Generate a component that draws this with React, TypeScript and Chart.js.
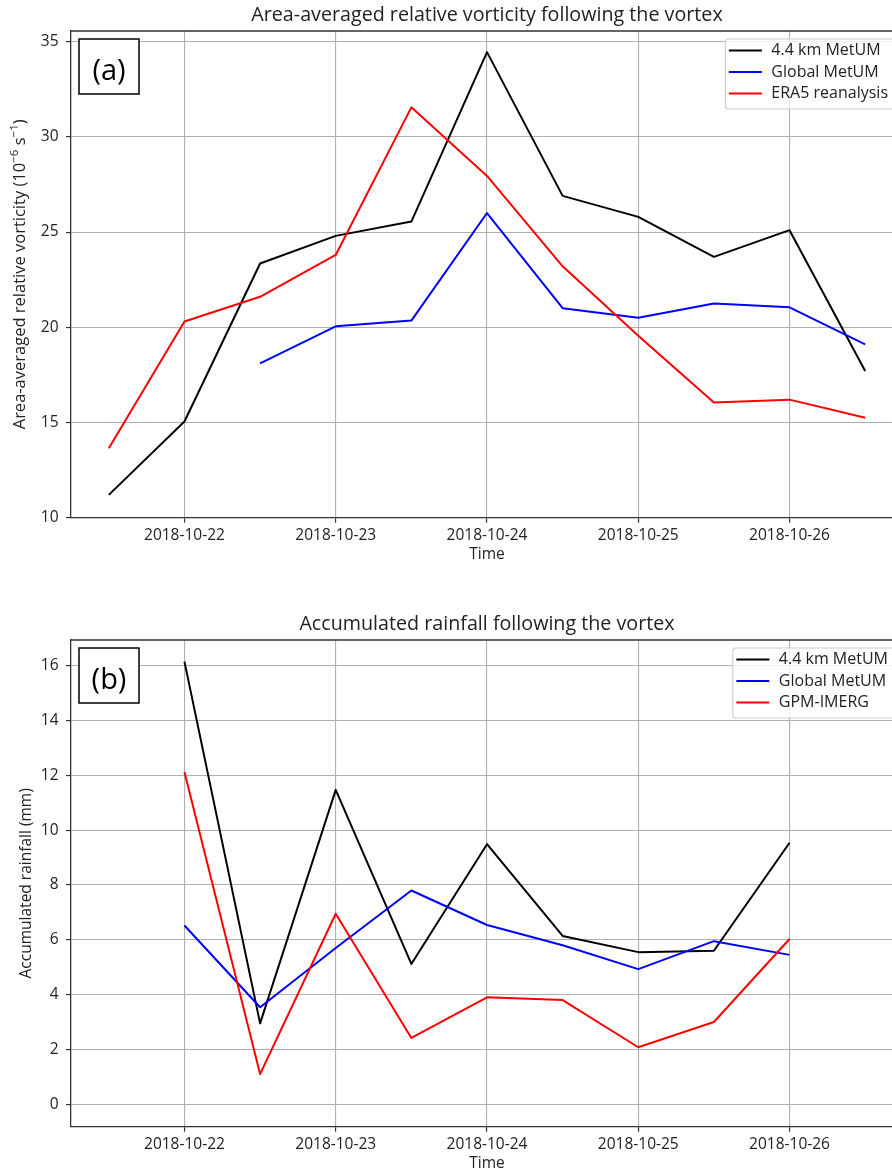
import React, { useEffect, useRef } from "react";
import { Chart, registerables } from "chart.js";

Chart.register(...registerables);

// ---------------- data ----------------
const vortTimes = [
  "2018-10-21T12:00", "2018-10-22T00:00", "2018-10-22T12:00", "2018-10-23T00:00",
  "2018-10-23T12:00", "2018-10-24T00:00", "2018-10-24T12:00", "2018-10-25T00:00",
  "2018-10-25T12:00", "2018-10-26T00:00", "2018-10-26T12:00",
];
const vort44km = [11.2, 15.05, 23.35, 24.8, 25.55, 34.45, 26.9, 25.8, 23.7, 25.1, 17.7];
const vortGlobal = [null, null, 18.1, 20.05, 20.35, 26.0, 21.0, 20.5, 21.25, 21.05, 19.1];
const vortEra5 = [13.65, 20.3, 21.6, 23.8, 31.55, 27.95, 23.2, 19.55, 16.05, 16.2, 15.25];

const rainTimes = [
  "2018-10-22T00:00", "2018-10-22T12:00", "2018-10-23T00:00", "2018-10-23T12:00",
  "2018-10-24T00:00", "2018-10-24T12:00", "2018-10-25T00:00", "2018-10-25T12:00",
  "2018-10-26T00:00",
];
const rain44km = [16.15, 2.95, 11.47, 5.12, 9.49, 6.14, 5.55, 5.6, 9.54];
const rainGlobal = [6.52, 3.54, 5.7, 7.8, 6.54, 5.8, 4.93, 5.95, 5.45];
const rainImerg = [12.12, 1.1, 6.95, 2.42, 3.9, 3.8, 2.08, 3.0, 6.03];

const dateTicks = ["2018-10-22", "2018-10-23", "2018-10-24", "2018-10-25", "2018-10-26"];
const vortTicks = [10, 15, 20, 25, 30, 35];
const rainTicks = [0, 2, 4, 6, 8, 10, 12, 14, 16];
const timeRange = ["2018-10-21T06:00", "2018-10-26T18:00"];
const vortRange = [10, 35.56];
const rainRange = [-0.82, 16.94];

const seriesColors = ["#000000", "#0000ff", "#ff0000"];
const vortLabels = ["4.4 km MetUM", "Global MetUM", "ERA5 reanalysis"];
const rainLabels = ["4.4 km MetUM", "Global MetUM", "GPM-IMERG"];

const vortTitle = "Area-averaged relative vorticity following the vortex";
const rainTitle = "Accumulated rainfall following the vortex";
const vortYTitle: Seg[] = [
  { t: "Area-averaged relative vorticity (10", sup: false },
  { t: "\u22126", sup: true },
  { t: " s", sup: false },
  { t: "\u22121", sup: true },
  { t: ")", sup: false },
];
const rainYTitle = "Accumulated rainfall (mm)";
const xTitle = "Time";

// ---------------- styles ----------------
const FONT = "'Open Sans', 'Noto Sans', sans-serif";
const TICK_SIZE = 15.5;
const LEGEND_SIZE = 16;
const RICH_TITLE_SIZE = 16.5;
const TITLE_SIZE = 19.7;
const TEXT = "#222222";
const GRID = "#b0b0b0";
const SPINE = "#333333";
const CANVAS_W = 960;
const PLOT_LEFT = 71;
const PLOT_RIGHT = 903;

type Seg = { t: string; sup: boolean };

const BASE = Date.UTC(2018, 9, 21);
const dayOf = (s: string) => (Date.parse(s + ":00Z") - BASE) / 86400000;

type PanelProps = {
  top: number;
  height: number;
  plotTop: number;
  plotBottom: number;
  title: string;
  titleY: number;
  panel: string;
  times: string[];
  series: (number | null)[][];
  labels: string[];
  yRange: number[];
  yTicks: number[];
  yTitleRich?: Seg[];
  yTitleText?: string;
  yTitleX: number;
  timeY: number;
};

function Panel(p: PanelProps) {
  const ref = useRef<HTMLCanvasElement | null>(null);

  useEffect(() => {
    const canvas = ref.current;
    if (!canvas) return;

    const decor = {
      id: "decor",
      afterDraw(chart: any) {
        const { ctx, chartArea: a } = chart;
        ctx.save();
        // top and right spines
        ctx.strokeStyle = SPINE;
        ctx.lineWidth = 1.3;
        ctx.beginPath();
        ctx.moveTo(a.left, a.top);
        ctx.lineTo(a.right, a.top);
        ctx.lineTo(a.right, a.bottom);
        ctx.stroke();

        // title
        ctx.fillStyle = TEXT;
        ctx.font = `${TITLE_SIZE}px ${FONT}`;
        ctx.textAlign = "center";
        ctx.textBaseline = "middle";
        ctx.fillText(p.title, (a.left + a.right) / 2, p.titleY);

        // rich y title (with superscripts)
        if (p.yTitleRich) {
          ctx.save();
          const main = `${RICH_TITLE_SIZE}px ${FONT}`;
          const sup = `${RICH_TITLE_SIZE * 0.7}px ${FONT}`;
          let total = 0;
          const widths = p.yTitleRich.map((s) => {
            ctx.font = s.sup ? sup : main;
            const w = ctx.measureText(s.t).width;
            total += w;
            return w;
          });
          ctx.translate(p.yTitleX, (a.top + a.bottom) / 2);
          ctx.rotate(-Math.PI / 2);
          ctx.textAlign = "left";
          ctx.textBaseline = "middle";
          let x = -total / 2;
          p.yTitleRich.forEach((s, i) => {
            ctx.font = s.sup ? sup : main;
            ctx.fillText(s.t, x, s.sup ? -RICH_TITLE_SIZE * 0.38 : 0);
            x += widths[i];
          });
          ctx.restore();
        }

        // panel label box
        const bx = a.left + 8;
        const by = a.top + 8;
        ctx.fillStyle = "#ffffff";
        ctx.fillRect(bx, by, 60, 55);
        ctx.strokeStyle = "#000000";
        ctx.lineWidth = 1.5;
        ctx.strokeRect(bx, by, 60, 55);
        ctx.fillStyle = "#000000";
        ctx.font = `29px ${FONT}`;
        ctx.textAlign = "center";
        ctx.textBaseline = "alphabetic";
        ctx.fillText(p.panel, bx + 30, by + 41);

        // legend
        ctx.font = `${LEGEND_SIZE}px ${FONT}`;
        const maxW = Math.max(...p.labels.map((l) => ctx.measureText(l).width));
        const lw = 46 + maxW + 8;
        const lr = a.right - 7;
        const lx = lr - lw;
        const ly = a.top + 8;
        const lh = 70;
        ctx.beginPath();
        const r = 3;
        ctx.moveTo(lx + r, ly);
        ctx.lineTo(lr - r, ly);
        ctx.arcTo(lr, ly, lr, ly + r, r);
        ctx.lineTo(lr, ly + lh - r);
        ctx.arcTo(lr, ly + lh, lr - r, ly + lh, r);
        ctx.lineTo(lx + r, ly + lh);
        ctx.arcTo(lx, ly + lh, lx, ly + lh - r, r);
        ctx.lineTo(lx, ly + r);
        ctx.arcTo(lx, ly, lx + r, ly, r);
        ctx.closePath();
        ctx.fillStyle = "rgba(255,255,255,0.8)";
        ctx.fill();
        ctx.strokeStyle = "#cccccc";
        ctx.lineWidth = 1.1;
        ctx.stroke();
        p.labels.forEach((l, k) => {
          const yy = ly + 11.5 + k * 21.5;
          ctx.strokeStyle = seriesColors[k];
          ctx.lineWidth = 2;
          ctx.beginPath();
          ctx.moveTo(lx + 3.5, yy);
          ctx.lineTo(lx + 36.5, yy);
          ctx.stroke();
          ctx.fillStyle = TEXT;
          ctx.textAlign = "left";
          ctx.textBaseline = "middle";
          ctx.fillText(l, lx + 46, yy);
        });
        ctx.restore();
      },
    };

    const tickFont = { family: FONT, size: TICK_SIZE };
    const xHeight = p.height - p.plotBottom;
    const lineH = TICK_SIZE * 1.2;

    const chart = new Chart(canvas, {
      type: "line",
      data: {
        datasets: p.series.map((s, k) => ({
          label: p.labels[k],
          data: p.times.map((t, i) => ({ x: dayOf(t), y: s[i] })),
          borderColor: seriesColors[k],
          backgroundColor: seriesColors[k],
          borderWidth: 2,
          pointRadius: 0,
          pointHoverRadius: 0,
          tension: 0,
          fill: false,
          spanGaps: false,
          borderJoinStyle: "round",
          order: 2 - k,
        })),
      },
      options: {
        animation: false,
        responsive: false,
        maintainAspectRatio: false,
        events: [],
        layout: { padding: { top: p.plotTop, left: 0, right: CANVAS_W - PLOT_RIGHT, bottom: 0 } },
        plugins: {
          legend: { display: false },
          title: { display: false },
          tooltip: { enabled: false },
        },
        scales: {
          x: {
            type: "linear",
            min: dayOf(timeRange[0]),
            max: dayOf(timeRange[1]),
            afterBuildTicks: (s: any) => {
              s.ticks = dateTicks.map((d) => ({ value: dayOf(d + "T00:00") }));
            },
            afterFit: (s: any) => {
              s.height = xHeight;
            },
            ticks: {
              autoSkip: false,
              maxRotation: 0,
              font: tickFont,
              color: TEXT,
              padding: 3.5,
              callback: (v: any) => {
                const i = dateTicks.findIndex((d) => Math.abs(dayOf(d + "T00:00") - v) < 1e-6);
                return i >= 0 ? dateTicks[i] : "";
              },
            },
            grid: {
              color: GRID,
              lineWidth: 1.1,
              drawTicks: true,
              tickLength: 5,
              tickColor: SPINE,
              tickWidth: 1.2,
            },
            border: { display: true, color: SPINE, width: 1.3 },
            title: {
              display: true,
              text: xTitle,
              font: tickFont,
              color: TEXT,
              padding: { top: 0, bottom: p.height - p.timeY - lineH / 2 },
            },
          },
          y: {
            type: "linear",
            min: p.yRange[0],
            max: p.yRange[1],
            afterBuildTicks: (s: any) => {
              s.ticks = p.yTicks.map((v) => ({ value: v }));
            },
            afterFit: (s: any) => {
              s.width = PLOT_LEFT;
            },
            ticks: {
              font: tickFont,
              color: TEXT,
              padding: 7.5,
              callback: (v: any) => String(v),
            },
            grid: {
              color: GRID,
              lineWidth: 1.1,
              drawTicks: true,
              tickLength: 5,
              tickColor: SPINE,
              tickWidth: 1.2,
            },
            border: { display: true, color: SPINE, width: 1.3 },
            title: p.yTitleText
              ? {
                  display: true,
                  text: p.yTitleText,
                  font: tickFont,
                  color: TEXT,
                  padding: { top: p.yTitleX - lineH / 2, bottom: 0 },
                }
              : { display: false },
          },
        },
      },
      plugins: [decor],
    } as any);

    let alive = true;
    if ((document as any).fonts && (document as any).fonts.ready) {
      (document as any).fonts.ready.then(() => {
        if (alive) chart.update();
      });
    }
    return () => {
      alive = false;
      chart.destroy();
    };
  }, []);

  return (
    <canvas
      ref={ref}
      width={CANVAS_W}
      height={p.height}
      style={{ position: "absolute", left: 0, top: p.top, width: CANVAS_W, height: p.height }}
    />
  );
}

export default function App() {
  return (
    <div
      style={{
        position: "absolute",
        left: 0,
        top: 0,
        width: 892,
        height: 1173,
        overflow: "hidden",
        background: "#ffffff",
      }}
    >
      <Panel
        top={0}
        height={580}
        plotTop={31}
        plotBottom={517.7}
        title={vortTitle}
        titleY={15}
        panel="(a)"
        times={vortTimes}
        series={[vort44km, vortGlobal, vortEra5]}
        labels={vortLabels}
        yRange={vortRange}
        yTicks={vortTicks}
        yTitleRich={vortYTitle}
        yTitleX={20.5}
        timeY={555}
      />
      <Panel
        top={590}
        height={583}
        plotTop={50}
        plotBottom={536.7}
        title={rainTitle}
        titleY={34}
        panel="(b)"
        times={rainTimes}
        series={[rain44km, rainGlobal, rainImerg]}
        labels={rainLabels}
        yRange={rainRange}
        yTicks={rainTicks}
        yTitleText={rainYTitle}
        yTitleX={26.5}
        timeY={573.3}
      />
    </div>
  );
}
